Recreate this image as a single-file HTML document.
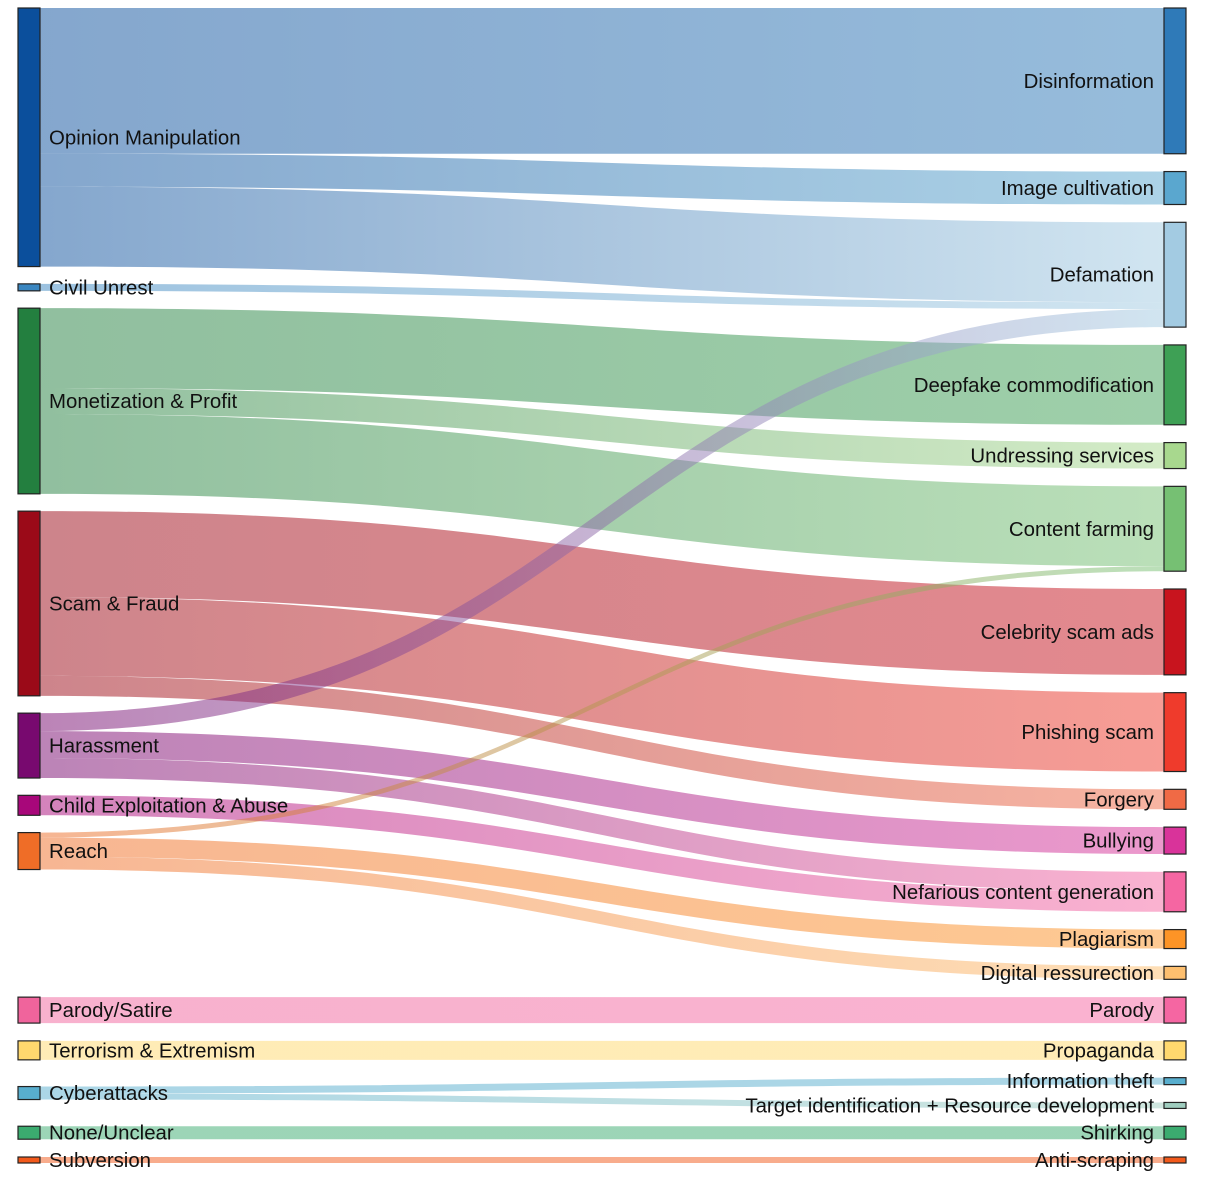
<!DOCTYPE html>
<html><head><meta charset="utf-8">
<style>
html,body{margin:0;padding:0;background:#fff;}
svg{display:block;}
text{font-family:"Liberation Sans",Arial,sans-serif;font-size:20.4px;fill:#111;}
</style></head>
<body>
<svg id="chart" width="1214" height="1182" viewBox="0 0 1214 1182" xmlns="http://www.w3.org/2000/svg">
<defs id="defs"></defs>
<g id="links"></g>
<g id="nodes"></g>
</svg>
<script>
const sourceNames = ["Opinion Manipulation","Civil Unrest","Monetization & Profit","Scam & Fraud","Harassment","Child Exploitation & Abuse","Reach","Parody/Satire","Terrorism & Extremism","Cyberattacks","None/Unclear","Subversion"];
const sourceColors = ["#0b4f9c","#3a86c0","#237f3f","#9b0a18","#78096f","#a8077a","#ef6d27","#f0649c","#ffd86e","#58aece","#3bab6f","#f2591b"];
const targetNames = ["Disinformation","Image cultivation","Defamation","Deepfake commodification","Undressing services","Content farming","Celebrity scam ads","Phishing scam","Forgery","Bullying","Nefarious content generation","Plagiarism","Digital ressurection","Parody","Propaganda","Information theft","Target identification + Resource development","Shirking","Anti-scraping"];
const targetColors = ["#2f7ab8","#5aa7cf","#a3cbe2","#3ea055","#a8d88e","#76c073","#c8141e","#ef3b2c","#f06a45","#d9339a","#f566a2","#fd9426","#fdbf6f","#f566a2","#ffd86e","#58aece","#9fcdbf","#3bab6f","#f2591b"];
const linkSources = [0,0,0,1,2,2,2,3,3,3,4,4,4,5,6,6,6,7,8,9,9,10,11];
const linkTargets = [0,1,2,2,3,4,5,6,7,8,2,9,10,10,5,11,12,13,14,15,16,17,18];
const linkValues  = [146,33,80,7,80,26,80,86,79,20,18,27,20,20,5,19,13,26,19,7,6,13,6];

const NS="http://www.w3.org/2000/svg";
const svg=document.getElementById('chart');
const defs=document.getElementById('defs');
const gL=document.getElementById('links'), gN=document.getElementById('nodes');
const top0=8, bottom0=1163, nodeW=22, xL=18, xR=1164;
const tTot=targetNames.map((_,i)=>linkValues.reduce((s,v,j)=>s+(linkTargets[j]===i?v:0),0));
const sTot=sourceNames.map((_,i)=>linkValues.reduce((s,v,j)=>s+(linkSources[j]===i?v:0),0));
const pad=17.8;
const k=(bottom0-top0-pad*(targetNames.length-1))/tTot.reduce((a,b)=>a+b,0);
const tY=[];let y=top0;
tTot.forEach((t,i)=>{tY[i]=y;y+=t*k+pad;});
const sY=[];y=top0;
sTot.forEach((t,i)=>{
  if(i<7){sY[i]=y;y+=t*k+pad-0.5;}
  else{
    const ts=linkTargets.filter((tt,j)=>linkSources[j]===i);
    const a=Math.min(...ts.map(tt=>tY[tt])), b=Math.max(...ts.map(tt=>tY[tt]+tTot[tt]*k));
    sY[i]=(a+b)/2-t*k/2;
  }
});
const sOff=sY.slice(), tOff=tY.slice();
const order=linkValues.map((_,j)=>j);
const sy0=[],ty0=[];
order.slice().sort((a,b)=>linkSources[a]-linkSources[b]||linkTargets[a]-linkTargets[b]).forEach(j=>{sy0[j]=sOff[linkSources[j]];sOff[linkSources[j]]+=linkValues[j]*k;});
order.slice().sort((a,b)=>linkTargets[a]-linkTargets[b]||linkSources[a]-linkSources[b]).forEach(j=>{ty0[j]=tOff[linkTargets[j]];tOff[linkTargets[j]]+=linkValues[j]*k;});
const x0=xL+nodeW, x1=xR, xm=(x0+x1)/2;
linkValues.forEach((v,j)=>{
  const h=v*k, a=sy0[j], b=ty0[j];
  const g=document.createElementNS(NS,'linearGradient');
  g.setAttribute('id','g'+j);g.setAttribute('gradientUnits','userSpaceOnUse');
  g.setAttribute('x1',x0);g.setAttribute('x2',x1);g.setAttribute('y1',0);g.setAttribute('y2',0);
  g.innerHTML=`<stop offset="0" stop-color="${sourceColors[linkSources[j]]}"/><stop offset="1" stop-color="${targetColors[linkTargets[j]]}"/>`;
  defs.appendChild(g);
  const p=document.createElementNS(NS,'path');
  p.setAttribute('d',`M${x0},${a}C${xm},${a} ${xm},${b} ${x1},${b}L${x1},${b+h}C${xm},${b+h} ${xm},${a+h} ${x0},${a+h}Z`);
  p.setAttribute('fill',`url(#g${j})`);p.setAttribute('fill-opacity','0.5');
  
  
  gL.appendChild(p);
});
function node(x,y0,h,col,label,left,nm){
  const r=document.createElementNS(NS,'rect');
  r.setAttribute('x',x);r.setAttribute('y',y0);r.setAttribute('width',nodeW);r.setAttribute('height',Math.max(h,1));
  r.setAttribute('fill',col);r.setAttribute('stroke','#222');r.setAttribute('stroke-width','1.2');
  
  
  gN.appendChild(r);
  const t=document.createElementNS(NS,'text');
  t.textContent=label;
  t.setAttribute('y',y0+h/2+7);
  if(left){t.setAttribute('x',x+nodeW+9);}else{t.setAttribute('x',x-10);t.setAttribute('text-anchor','end');}
  
  
  gN.appendChild(t);
}
sourceNames.forEach((n,i)=>node(xL,sY[i],sTot[i]*k,sourceColors[i],n,true,'source-'+n.toLowerCase().replace(/[^a-z]+/g,'-')));
targetNames.forEach((n,i)=>node(xR,tY[i],tTot[i]*k,targetColors[i],n,false,'target-'+n.toLowerCase().replace(/[^a-z]+/g,'-')));
</script>
</body></html>
